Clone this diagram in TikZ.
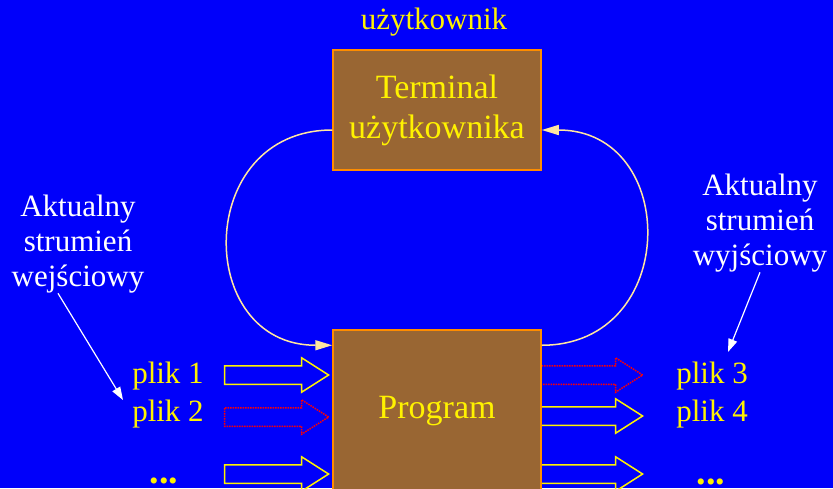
\documentclass[tikz,border=0pt]{standalone}
\usepackage{fontspec}
\setmainfont{Liberation Serif}
\usetikzlibrary{arrows.meta,positioning,shapes.arrows}
\definecolor{tlo}{RGB}{0,0,250}
\definecolor{braz}{RGB}{153,102,51}
\definecolor{ramka}{RGB}{255,140,0}
\definecolor{luk}{RGB}{255,230,160}

\tikzset{
  pudlo/.style={draw=ramka, line width=1.5pt, fill=braz, text=yellow, minimum width=208pt,
    font=\fontsize{34}{40}\selectfont, align=center},
  napis/.style={text=yellow, font=\fontsize{31}{35}\selectfont, inner sep=0pt},
  kropki/.style={napis, anchor=base, font=\fontsize{38}{38}\selectfont\bfseries},
  opis/.style={text=white, font=\fontsize{31}{35}\selectfont, align=center, inner sep=0pt},
  blok/.style={single arrow, draw=yellow, line width=1.5pt, minimum height=104pt,
    minimum width=33pt, single arrow head extend=8pt, single arrow tip angle=65,
    inner xsep=0pt, inner ysep=8.5pt, anchor=tip},
  blokk/.style={blok, draw=red, densely dotted},
}

\begin{document}
\begin{tikzpicture}[x=1pt,y=-1pt]
\fill[tlo] (0,0) rectangle (833,488);
\useasboundingbox (0,0) rectangle (833,488);

% strumienie wyjsciowe
\node[blokk] (wy1) at (644,375) {};
\node[blok] (wy2) at (644,416) {};
\node[blok] (wy3) at (644,474) {};
\node[napis] (plik3) at (712,376) {plik 3};
\node[napis] (plik4) at (712,414) {plik 4};
\node[kropki] (kropki2) at (711,484) {...};

\node[napis] (uzytkownik) at (434,22) {użytkownik};
\node[pudlo, minimum height=120pt] (terminal) at (437,110) {Terminal\\użytkownika};
\node[pudlo, minimum height=162pt] (program) at (437,411) {Program};

% strumienie wejsciowe
\node[napis] (plik1) at (168,376) {plik 1};
\node[napis] (plik2) at (168,414) {plik 2};
\node[kropki] (kropki1) at (164,483) {...};
\node[blok] (we1) at (330,375) {};
\node[blokk] (we2) at (330,417) {};
\node[blok] (we3) at (330,474) {};

\node[opis] (wej) at (78,244) {Aktualny\\strumień\\wejściowy};
\node[opis] (wyj) at (760,223) {Aktualny\\strumień\\wyjściowy};
\coordinate (c1) at (123,400);
\coordinate (c2) at (728,352);

\draw[white, line width=1.2pt, -{Triangle[length=13pt,width=9pt]}] ([xshift=-20pt]wej.south) -- (c1);
\draw[white, line width=1.2pt, -{Triangle[length=13pt,width=9pt]}] (wyj.south) -- (c2);

\draw[luk, line width=1.5pt, -{Triangle[length=17pt,width=10pt]}]
  ([yshift=-20pt]terminal.west) to[out=180,in=180,looseness=1.65] ([yshift=-16pt]program.north west);
\draw[luk, line width=1.5pt, -{Triangle[length=17pt,width=10pt]}]
  ([yshift=-16pt]program.north east) to[out=0,in=0,looseness=1.65] ([yshift=-20pt]terminal.east);
\end{tikzpicture}
\end{document}
